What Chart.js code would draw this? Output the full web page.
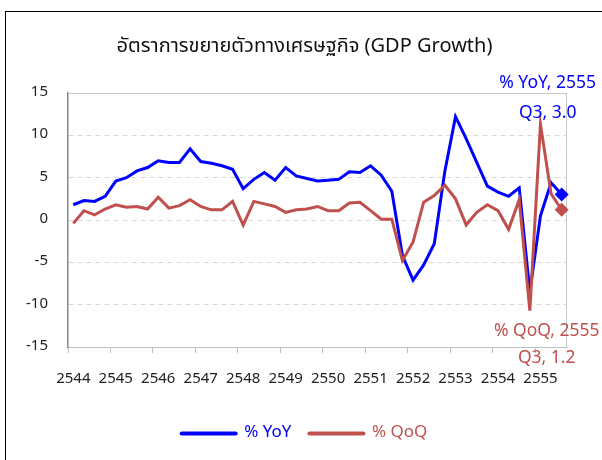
<!DOCTYPE html>
<html>
<head>
<meta charset="utf-8">
<script src="https://cdn.jsdelivr.net/npm/chart.js@4.4.1/dist/chart.umd.min.js"></script>
<style>
  body { margin: 0; background: #fff; }
  #wrap { width: 602px; height: 460px; }
</style>
</head>
<body>
<div id="wrap"><canvas id="gdpChart" width="602" height="460"></canvas></div>
<script>
// years on the axis (Thai Buddhist era), one label every 4 quarters
var years = ['2544', '2545', '2546', '2547', '2548', '2549', '2550', '2551', '2552', '2553', '2554', '2555'];
var quarterNames = ['Q1', 'Q2', 'Q3', 'Q4'];
// 2544 Q1 .. 2555 Q3
var quarters = [];
years.forEach(function(y) {
  quarterNames.forEach(function(q) { quarters.push(y + ' ' + q); });
});
quarters = quarters.slice(0, 47);

// % YoY
var yoy = [1.8, 2.3, 2.2, 2.8, 4.6, 5.0, 5.8, 6.2, 7.0, 6.8, 6.8, 8.4,
           6.9, 6.7, 6.4, 6.0, 3.7, 4.8, 5.6, 4.7, 6.2, 5.2, 4.9, 4.6,
           4.7, 4.8, 5.7, 5.6, 6.4, 5.3, 3.4, -4.2, -7.1, -5.3, -2.8, 5.8,
           12.2, 9.6, 6.8, 4.0, 3.3, 2.8, 3.8, -8.5, 0.5, 4.4, 3.0];
// % QoQ
var qoq = [-0.4, 1.1, 0.6, 1.3, 1.8, 1.5, 1.6, 1.3, 2.7, 1.4, 1.7, 2.4,
           1.6, 1.2, 1.2, 2.2, -0.6, 2.2, 1.9, 1.6, 0.9, 1.2, 1.3, 1.6,
           1.1, 1.1, 2.0, 2.1, 1.1, 0.1, 0.1, -4.8, -2.6, 2.1, 2.9, 4.1,
           2.5, -0.6, 0.9, 1.8, 1.1, -1.1, 2.4, -10.7, 11.3, 3.1, 1.2];

var BLUE = '#0000ff';
var RED = '#c0504d';
var FONT = 'Tahoma, "Noto Sans Thai", "DejaVu Sans", sans-serif';

var lastIdx = quarters.length - 1;

// label text next to the last point of each line (offsets in px from the point)
var endLabels = [
  { lines: ['% YoY, 2555', 'Q3, ' + yoy[lastIdx].toFixed(1)], dx: -14, dy: [-110, -80] },
  { lines: ['% QoQ, 2555', 'Q3, ' + qoq[lastIdx].toFixed(1)], dx: -15, dy: [123, 150] }
];

var framePlugin = {
  id: 'frame',
  beforeDraw: function(chart) {
    var c = chart.ctx;
    c.save();
    c.fillStyle = '#fff';
    c.fillRect(0, 0, chart.width, chart.height);
    c.strokeStyle = '#000';
    c.lineWidth = 1;
    c.strokeRect(5.5, 11.5, 700, 600);
    c.restore();
  },
  beforeDatasetsDraw: function(chart) {
    var a = chart.chartArea, c = chart.ctx;
    c.save();
    c.strokeStyle = '#c8c8c8';
    c.lineWidth = 1;
    c.beginPath();
    c.moveTo(a.left, a.top + 0.5);
    c.lineTo(a.right - 0.5, a.top + 0.5);
    c.lineTo(a.right - 0.5, a.bottom);
    c.stroke();
    c.restore();
  },
  afterDatasetsDraw: function(chart) {
    var c = chart.ctx;
    c.save();
    c.font = '17.5px ' + FONT;
    c.textAlign = 'center';
    c.textBaseline = 'middle';
    endLabels.forEach(function(lb, i) {
      var pt = chart.getDatasetMeta(i).data[lastIdx];
      c.fillStyle = chart.data.datasets[i].borderColor;
      lb.lines.forEach(function(t, k) {
        c.fillText(t, pt.x + lb.dx, pt.y + lb.dy[k]);
      });
    });
    c.restore();
  }
};

var ctx = document.getElementById('gdpChart').getContext('2d');
var gdpChart = new Chart(ctx, {
  type: 'line',
  data: {
    labels: quarters,
    datasets: [{
      label: '% YoY',
      data: yoy,
      borderColor: BLUE,
      backgroundColor: BLUE,
      borderWidth: 3,
      tension: 0,
      order: 1,
      pointStyle: 'rectRot',
      pointRadius: function(c) { return c.dataIndex === lastIdx ? 7 : 0; },
      pointBorderWidth: 0
    }, {
      label: '% QoQ',
      data: qoq,
      borderColor: RED,
      backgroundColor: RED,
      borderWidth: 3,
      tension: 0,
      order: 0,
      pointStyle: 'rectRot',
      pointRadius: function(c) { return c.dataIndex === lastIdx ? 7 : 0; },
      pointBorderWidth: 0
    }]
  },
  options: {
    responsive: false,
    animation: false,
    layout: {
      padding: { top: 22, right: 17, bottom: 8, left: 24 }
    },
    scales: {
      x: {
        offset: true,
        grid: {
          offset: true,
          drawOnChartArea: false,
          tickLength: 6,
          tickColor: function(c) { return (c.index !== undefined && c.index % 4 === 0) ? '#bfbfbf' : 'rgba(0,0,0,0)'; }
        },
        border: { color: '#bfbfbf', width: 1 },
        ticks: {
          autoSkip: false,
          maxRotation: 0,
          padding: 18,
          color: '#222',
          font: { family: FONT, size: 15 },
          callback: function(v, i) { return i % 4 === 0 ? years[i / 4] : ''; }
        }
      },
      y: {
        min: -15,
        max: 15,
        afterFit: function(scale) { scale.width = 44; },
        grid: {
          color: '#d9d9d9',
          drawTicks: false
        },
        border: { color: '#868686', width: 1.5, dash: [5, 4] },
        ticks: {
          stepSize: 5,
          padding: 20,
          color: '#222',
          font: { family: FONT, size: 15 }
        }
      },
      // empty spacer on the right, keeps the plot narrower than the title/legend row
      spacer: {
        type: 'linear',
        position: 'right',
        display: true,
        afterFit: function(scale) { scale.width = 18; },
        grid: { display: false, drawOnChartArea: false },
        border: { display: false },
        ticks: { display: false }
      }
    },
    plugins: {
      title: {
        display: true,
        text: 'อัตราการขยายตัวทางเศรษฐกิจ (GDP Growth)',
        color: '#111',
        font: { family: FONT, size: 20, weight: 'normal' },
        padding: { top: 14, bottom: 33 }
      },
      legend: {
        display: true,
        position: 'bottom',
        labels: {
          usePointStyle: true,
          pointStyle: 'line',
          pointStyleWidth: 54,
          padding: 18,
          font: { family: FONT, size: 17 },
          sort: function(a, b) { return a.datasetIndex - b.datasetIndex; },
          generateLabels: function(chart) {
            var items = Chart.defaults.plugins.legend.labels.generateLabels(chart);
            items.forEach(function(it) {
              var ds = chart.data.datasets[it.datasetIndex];
              it.fontColor = ds.borderColor;
              it.strokeStyle = ds.borderColor;
              it.lineCap = 'round';
              it.pointStyle = 'line';
              it.lineWidth = 4;
            });
            return items;
          }
        }
      },
      tooltip: { enabled: false }
    }
  },
  plugins: [framePlugin]
});
</script>
</body>
</html>
